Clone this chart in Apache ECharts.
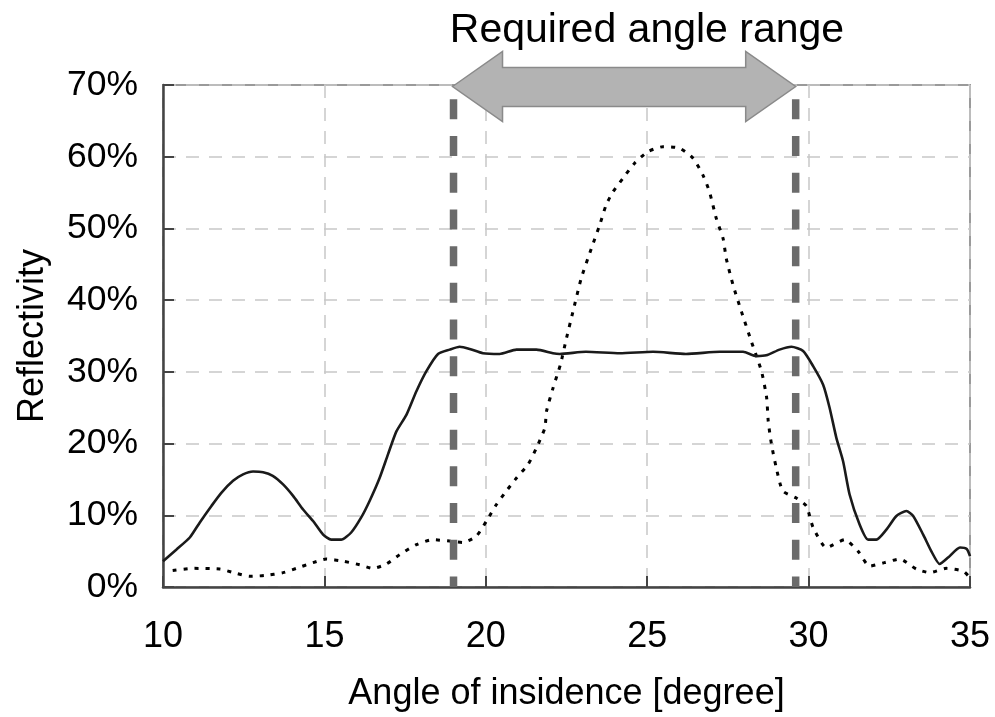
<!DOCTYPE html>
<html>
<head>
<meta charset="utf-8">
<script src="https://cdn.jsdelivr.net/npm/echarts@6/dist/echarts.min.js"></script>
<style>html,body{margin:0;padding:0;background:#fff;}#c{width:995px;height:717px;}</style>
</head>
<body>
<div id="c"></div>
<script>
// ---- data ----
const xTicks = [10, 15, 20, 25, 30, 35];
const yTicks = [0, 10, 20, 30, 40, 50, 60, 70];
const solidCurve = [
[10,3.6],[10.41,5.2],[10.83,6.9],[11.14,9.0],[11.5,11.3],[11.8,13.1],[12.17,14.8],[12.48,15.7],[12.79,16.1],[13.1,16.0],[13.4,15.5],[13.72,14.3],[14.03,12.7],[14.34,10.8],[14.65,9.2],[14.96,7.3],[15.21,6.6],[15.52,6.6],[15.83,7.6],[16.14,9.7],[16.4,12.0],[16.71,15.2],[16.97,18.5],[17.23,21.7],[17.54,24.0],[17.85,27.3],[18.16,30.1],[18.52,32.5],[18.88,33.1],[19.19,33.5],[19.5,33.2],[19.91,32.6],[20.43,32.5],[20.95,33.1],[21.57,33.1],[22.08,32.6],[22.29,32.5],[23.1,32.8],[24.15,32.6],[25.18,32.8],[26.2,32.5],[27.25,32.8],[27.97,32.8],[28.38,32.2],[28.69,32.3],[29.1,33.1],[29.47,33.5],[29.83,32.9],[30.14,30.8],[30.45,28.2],[30.65,25.0],[30.86,20.8],[31.07,17.5],[31.27,12.9],[31.58,8.7],[31.84,6.6],[32.1,6.6],[32.41,8.0],[32.72,9.9],[33.03,10.6],[33.24,9.9],[33.55,7.3],[33.8,5.0],[34.06,3.2],[34.32,4.1],[34.69,5.5],[34.9,5.3],[35,4.3]
];
const dottedCurve = [
[10.3,2.3],[10.93,2.6],[11.76,2.5],[12.27,1.9],[12.68,1.5],[13.15,1.6],[13.72,2.0],[14.13,2.6],[14.65,3.4],[15.06,3.9],[15.58,3.6],[16.09,3.1],[16.5,2.6],[16.92,3.2],[17.33,4.5],[17.85,5.9],[18.36,6.6],[18.88,6.4],[19.29,6.2],[19.71,7.1],[20.02,9.2],[20.33,11.5],[20.64,13.4],[20.95,15.2],[21.31,17.1],[21.57,19.4],[21.83,22.2],[21.88,24.5],[22.08,27.7],[22.31,31.0],[22.5,34.7],[22.7,38.4],[22.96,43.1],[23.27,47.2],[23.53,50.5],[23.73,53.3],[23.94,55.1],[24.25,57.0],[24.61,59.1],[25.02,60.7],[25.49,61.4],[26.0,61.2],[26.42,59.8],[26.73,57.4],[26.93,55.1],[27.14,51.4],[27.35,48.6],[27.45,45.8],[27.66,42.1],[27.92,38.4],[28.23,34.2],[28.54,30.1],[28.7,26.4],[28.75,23.1],[28.85,19.9],[29.0,16.6],[29.2,13.4],[29.62,12.4],[29.93,11.3],[30.14,8.3],[30.55,5.5],[31.12,6.6],[31.53,5.0],[31.89,2.9],[32.35,3.4],[32.82,3.9],[33.34,2.5],[33.75,2.0],[34.27,2.6],[34.79,2.2],[35,1.3]
];
const rangeStart = 19;
const rangeEnd = 29.6;
const rangeLineTop = 68;
const arrowLevel = 70;
const titleText = 'Required angle range';
const xName = 'Angle of insidence [degree]';
const yName = 'Reflectivity';

// ---- chart ----
const FONT = '"Liberation Sans", Arial, sans-serif';
const chart = echarts.init(document.getElementById('c'), null, {renderer: 'canvas'});
const gridLine = {show: true, lineStyle: {color: '#c8c8c8', width: 1.5, type: [13, 10]}};
chart.setOption({
  animation: false,
  backgroundColor: '#fff',
  title: {
    text: titleText, left: 642, top: 5, textAlign: 'center',
    textStyle: {fontFamily: FONT, fontSize: 41, fontWeight: 'normal', color: '#000'}
  },
  grid: {left: 163, right: 25, top: 85, bottom: 128, show: true, borderColor: '#9a9a9a', borderWidth: 2, backgroundColor: 'transparent'},
  xAxis: {
    type: 'value', min: xTicks[0], max: xTicks[xTicks.length - 1], interval: xTicks[1] - xTicks[0],
    name: xName, nameLocation: 'middle', nameGap: 89,
    nameTextStyle: {fontFamily: FONT, fontSize: 36, color: '#000'},
    axisLine: {lineStyle: {color: '#444', width: 2.5}},
    axisTick: {inside: true, length: 11, lineStyle: {color: '#444', width: 2}},
    axisLabel: {fontFamily: FONT, fontSize: 36, color: '#000', margin: 32},
    splitLine: gridLine
  },
  yAxis: {
    type: 'value', min: yTicks[0], max: yTicks[yTicks.length - 1], interval: yTicks[1] - yTicks[0],
    name: yName, nameLocation: 'middle', nameGap: 112, nameRotate: 90,
    nameTextStyle: {fontFamily: FONT, fontSize: 36, color: '#000'},
    axisLine: {lineStyle: {color: '#444', width: 2.5}},
    axisTick: {inside: true, length: 11, lineStyle: {color: '#444', width: 2}},
    axisLabel: {fontFamily: FONT, fontSize: 35.5, color: '#000', margin: 25, formatter: '{value}%'},
    splitLine: gridLine
  },
  series: [
    {type: 'line', data: dottedCurve, showSymbol: false, smooth: 0.2,
     lineStyle: {color: '#000', width: 3, type: [4, 7]}, z: 3},
    {type: 'line', data: solidCurve, showSymbol: false, smooth: 0.2,
     lineStyle: {color: '#1a1a1a', width: 2.6}, z: 4},
    {type: 'line', data: [[rangeStart, rangeLineTop], [rangeStart, 0]], showSymbol: false,
     lineStyle: {color: '#6b6b6b', width: 7.5, type: [20, 16.7]}, z: 5},
    {type: 'line', data: [[rangeEnd, rangeLineTop], [rangeEnd, 0]], showSymbol: false,
     lineStyle: {color: '#6b6b6b', width: 7.5, type: [20, 16.7]}, z: 5}
  ]
});

// arrow between the range limits, placed through the axes
const p1 = chart.convertToPixel({gridIndex: 0}, [rangeStart, arrowLevel]);
const p2 = chart.convertToPixel({gridIndex: 0}, [rangeEnd, arrowLevel]);
const yc = p1[1] + 1.5, x1 = p1[0] - 1, x2 = p2[0];
const hl = 50, hh = 35, bt = 19, bb = 20;
chart.setOption({
  graphic: [{
    type: 'polygon', z: 100,
    shape: {points: [
      [x1, yc], [x1 + hl, yc - hh], [x1 + hl, yc - bt], [x2 - hl, yc - bt], [x2 - hl, yc - hh],
      [x2, yc], [x2 - hl, yc + hh], [x2 - hl, yc + bb], [x1 + hl, yc + bb], [x1 + hl, yc + hh]
    ]},
    style: {fill: '#b3b3b3', stroke: '#8a8a8a', lineWidth: 1.5}
  }]
});
</script>
</body>
</html>
